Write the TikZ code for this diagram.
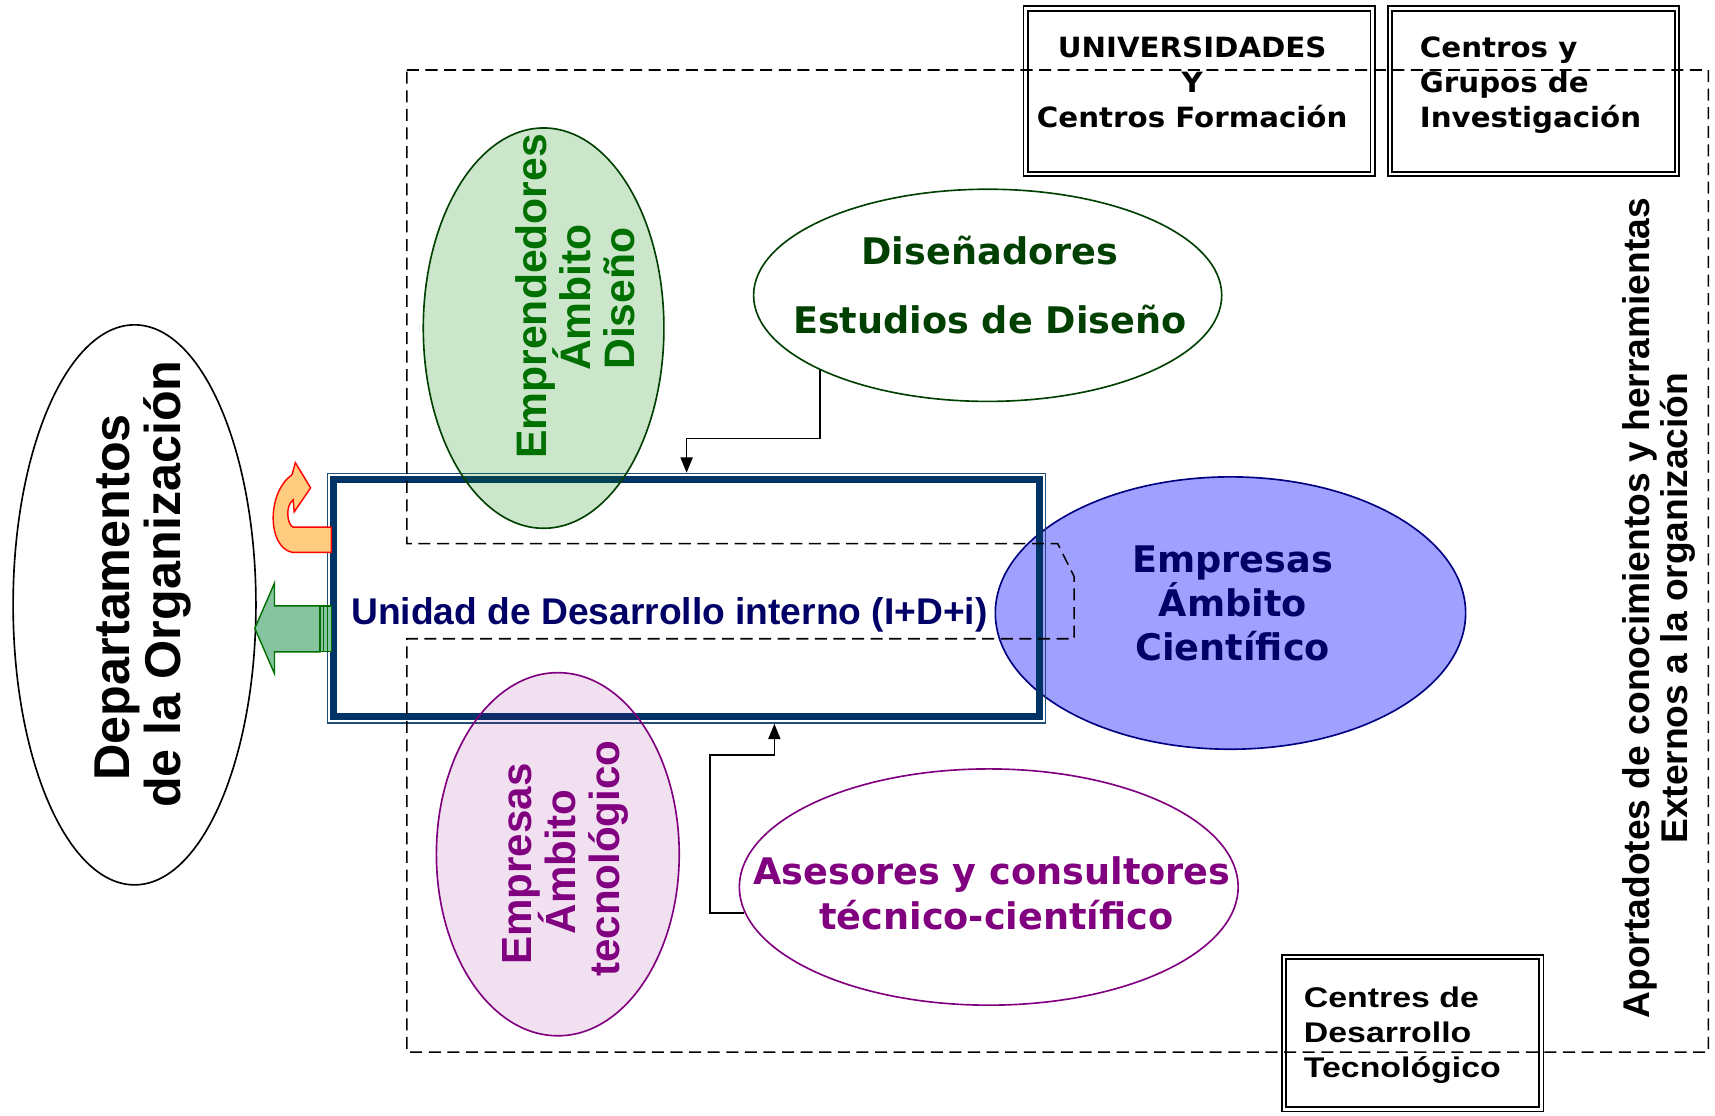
\documentclass[tikz,border=0pt]{standalone}
\usepackage{fontspec}
\setmainfont{Liberation Sans}
\newfontfamily\fA{Liberation Sans}
\newfontfamily\fV{DejaVu Sans}
\newfontfamily\fT{DejaVu Sans}[FakeStretch=1.05]
\newfontfamily\fW{Liberation Sans}[FakeStretch=1.19]
\usetikzlibrary{shapes.geometric,arrows.meta}
\definecolor{navyTxt}{RGB}{0,0,102}
\definecolor{boxThick}{RGB}{0,51,102}
\definecolor{boxThin}{RGB}{31,78,121}
\definecolor{blueFill}{RGB}{160,160,255}
\definecolor{blueLine}{RGB}{0,0,128}
\definecolor{greenTxt}{RGB}{0,112,0}
\definecolor{dgreen}{RGB}{0,64,0}
\definecolor{purp}{RGB}{128,0,128}
\definecolor{greenBase}{RGB}{0,128,0}
\definecolor{arrowGreen}{RGB}{134,196,160}
\definecolor{arrowGreenLine}{RGB}{0,110,0}
\definecolor{orangeFill}{RGB}{255,204,128}
\begin{document}
\begin{tikzpicture}[x=1pt,y=-1pt,
  ell/.style={ellipse,inner sep=0pt,line width=1.5pt},
  lbl/.style={inner sep=0pt,anchor=base},
  lblw/.style={inner sep=0pt,anchor=base west},
  rlbl/.style={inner sep=0pt,anchor=base,rotate=90},
  dbox/.style={rectangle,draw=black,double=white,line width=1.6pt,double distance=2.5pt,inner sep=0pt},
  conn/.style={line width=1.6pt,-{Triangle[length=14pt,width=11pt]}},
  dashframe/.style={line width=1.4pt,dash pattern=on 11pt off 6pt},
  fVer/.style={font=\fV\bfseries\fontsize{33.5}{40}\selectfont},
  fTop/.style={font=\fT\bfseries\fontsize{25.5}{32}\selectfont},
  fCdt/.style={font=\fW\bfseries\fontsize{26}{32}\selectfont},
]
\useasboundingbox (0,0) rectangle (1568,1020);

% ellipses drawn below the unit box
\node[ell,draw=blueLine,fill=blueFill,minimum width=430pt,minimum height=249pt] (cien) at (1125,560.5) {};
\node[ell,draw=dgreen,fill=white,minimum width=428pt,minimum height=194pt] (dis) at (903,270) {};
\node[ell,draw=purp,fill=white,minimum width=456pt,minimum height=216pt] (ase) at (904,811) {};
\node[ell,draw=black,fill=white,minimum width=222pt,minimum height=512pt] (dept) at (123,553) {};

% unit box
\node[draw=boxThin,line width=1.5pt,minimum width=656.5pt,minimum height=228pt,inner sep=0pt] (unit) at (627.75,547) {};
\draw[boxThick,line width=6.5pt] ([shift={(6.5,6.5)}]unit.north west) rectangle ([shift={(-6.5,-6.5)}]unit.south east);

% translucent ellipses over the box
\node[ell,draw=dgreen,fill=greenBase,fill opacity=0.2,minimum width=220pt,minimum height=366pt] (empd) at (497,300) {};
\node[ell,draw=purp,fill=purp,fill opacity=0.12,minimum width=222pt,minimum height=332pt] (tec) at (510,781) {};

% texts
\node[lbl,fVer,text=dgreen] (dis1) at (905,242) {Diseñadores};
\node[lbl,fVer,text=dgreen] (dis2) at (905,305) {Estudios de Diseño};
\node[lbl,fVer,text=navyTxt] (cien1) at (1127,523) {Empresas};
\node[lbl,fVer,text=navyTxt] (cien2) at (1127,564) {Ámbito};
\node[lbl,fVer,text=navyTxt] (cien3) at (1127,604) {Científico};
\node[lbl,fVer,text=purp] (ase1) at (907,809) {Asesores y consultores};
\node[lbl,fVer,text=purp] (ase2) at (911,850) {técnico-científico};
\node[lbl,text=navyTxt,font=\fA\bfseries\fontsize{34}{40}\selectfont] (unitlbl) at (612,571) {Unidad de Desarrollo interno (I+D+i)};

\node[rlbl,font=\fA\bfseries\fontsize{46}{47}\selectfont] (dept1) at (118,546) {Departamentos};
\node[rlbl,font=\fA\bfseries\fontsize{46}{47}\selectfont] (dept2) at (165,534) {de la Organización};

\node[rlbl,text=greenTxt,font=\fA\bfseries\fontsize{39}{40}\selectfont] (empd1) at (500,271) {Emprendedores};
\node[rlbl,text=greenTxt,font=\fA\bfseries\fontsize{39}{40}\selectfont] (empd2) at (540,272) {Ámbito};
\node[rlbl,text=greenTxt,font=\fA\bfseries\fontsize{39}{40}\selectfont] (empd3) at (580,273) {Diseño};

\node[rlbl,text=purp,font=\fA\bfseries\fontsize{38.5}{40}\selectfont] (tec1) at (486,790) {Empresas};
\node[rlbl,text=purp,font=\fA\bfseries\fontsize{38.5}{40}\selectfont] (tec2) at (526,788) {Ámbito};
\node[rlbl,text=purp,font=\fA\bfseries\fontsize{38.5}{40}\selectfont] (tec3) at (566,785) {tecnológico};

\node[rlbl,font=\fA\bfseries\fontsize{34}{35}\selectfont] (apo1) at (1508,556) {Aportadotes de conocimientos y herramientas};
\node[rlbl,font=\fA\bfseries\fontsize{34}{35}\selectfont] (apo2) at (1543,556) {Externos a la organización};

% block arrows at the left side of the unit
\draw[arrowGreenLine,line width=1.3pt,fill=arrowGreen] (233,574.5) -- (251,533) -- (251,554) -- (292.5,554) -- (292.5,596) -- (251,596) -- (251,616) -- cycle;
\draw[arrowGreenLine,line width=1.1pt,fill=arrowGreen] (292.5,554) rectangle (296,596);
\draw[arrowGreenLine,line width=1.1pt,fill=arrowGreen] (296,554) rectangle (299.5,596);
\draw[arrowGreenLine,line width=1.1pt,fill=arrowGreen] (299.5,554) rectangle (303,596);
\draw[red,line width=1.3pt,fill=orangeFill] (303,482) -- (268,482) .. controls (262,479) and (261,462) .. (268,457) -- (269,468) -- (284,446) -- (270,423) -- (267,434) .. controls (244,450) and (244,500) .. (267,505) -- (303,505) -- cycle;

% connectors
\coordinate (bendA) at (690,401);
\coordinate (bendB) at (649,690);
\draw[conn] (dis.204.5) -- (dis.204.5 |- bendA) -| (unit.north);
\draw[conn] (ase.186) -| (bendB) -| ([xshift=80.25pt]unit.south);

% external boxes
\node[dbox,minimum width=317.3pt,minimum height=151.3pt] (uni) at (1096.5,83.5) {};
\node[dbox,minimum width=262.3pt,minimum height=151.3pt] (cgi) at (1402,83.5) {};
\node[dbox,minimum width=235.3pt,minimum height=139.3pt] (cdt) at (1291.5,944.5) {};

\node[lbl,fTop] (uni1) at (1090,53) {UNIVERSIDADES};
\node[lbl,fTop] (uni2) at (1090,85) {Y};
\node[lbl,fTop] (uni3) at (1090,117) {Centros Formación};
\node[lblw,fTop] (cgi1) at (1298,53) {Centros y};
\node[lblw,fTop] (cgi2) at (1298,85) {Grupos de};
\node[lblw,fTop] (cgi3) at (1298,117) {Investigación};
\node[lblw,fCdt] (cdt1) at (1192,921) {Centres de};
\node[lblw,fCdt] (cdt2) at (1192,953) {Desarrollo};
\node[lblw,fCdt] (cdt3) at (1192,985) {Tecnológico};

% dashed region of external contributors
\draw[dashframe] (372,64) -- (1562,64) -- (1562,962) -- (372,962) -- (372,584) -- (982,584) -- (982,527) -- (967,497) -- (372,497) -- cycle;
\end{tikzpicture}
\end{document}
